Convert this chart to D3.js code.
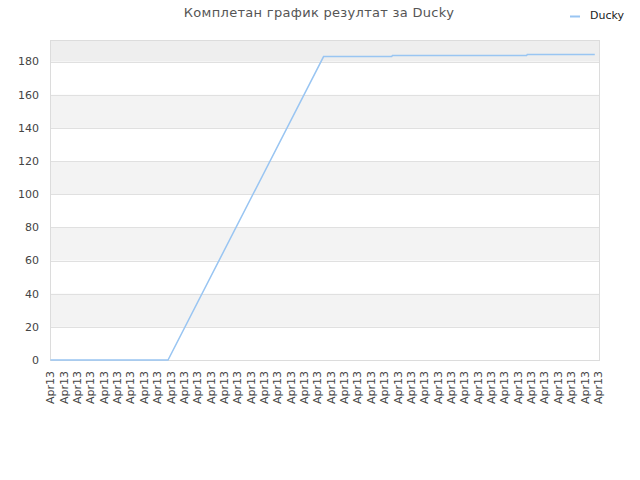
<!DOCTYPE html>
<html>
<head>
<meta charset="utf-8">
<script src="https://cdn.jsdelivr.net/npm/d3@7"></script>
<style>
  body { margin: 0; background: #fff; }
  text { font-family: "DejaVu Sans", sans-serif; }
</style>
</head>
<body>
<div id="graph"></div>
<script>
// data
var seriesName = "Ducky";
var chartTitle = "Комплетан график резултат за Ducky";
var xLabels = d3.range(42).map(function () { return "Apr13"; });
// x positions in label units (time is irregular), and the score at each
var xPos = [0, 8.8, 20.45, 25.55, 25.6, 35.65, 35.7, 40.76];
var values = [0, 0, 183, 183, 183.6, 183.6, 184.2, 184.2];
var yTicks = [0, 20, 40, 60, 80, 100, 120, 140, 160, 180];

var w = 640, h = 480,
    plotL = 50, plotR = 600, plotT = 40, plotB = 360;

var svg = d3.select("#graph").append("svg")
    .attr("width", w)
    .attr("height", h);

var y = d3.scaleLinear().domain([0, 193]).range([plotB, plotT]);
var x = d3.scaleLinear().domain([0, xLabels.length - 1]).range([50.5, 598]);

// bands: grey on every second interval
var bandStarts = yTicks.filter(function (d, i) { return i % 2 === 1; });
svg.selectAll("rect.band")
  .data(bandStarts)
  .enter().append("rect")
    .attr("class", "band")
    .attr("x", plotL)
    .attr("width", plotR - plotL)
    .attr("y", function (d) { return y(Math.min(d + 20, 193)); })
    .attr("height", function (d) { return y(d) - y(Math.min(d + 20, 193)); })
    .attr("fill", function (d) { return d === 180 ? "#eeeeee" : "#f3f3f3"; });

// grid
svg.selectAll("line.grid")
  .data(yTicks)
  .enter().append("line")
    .attr("x1", plotL).attr("x2", plotR)
    .attr("y1", function (d) { return Math.round(y(d)) + 0.5; })
    .attr("y2", function (d) { return Math.round(y(d)) + 0.5; })
    .attr("stroke", "#e0e0e0");

// frame
svg.append("rect")
  .attr("x", plotL + 0.5).attr("y", plotT + 0.5)
  .attr("width", plotR - plotL - 1).attr("height", plotB - plotT)
  .attr("fill", "none")
  .attr("stroke", "#dcdcdc");

// y labels
svg.selectAll("text.ylab")
  .data(yTicks)
  .enter().append("text")
    .attr("x", 39)
    .attr("y", function (d) { return y(d); })
    .attr("dy", "0.35em")
    .attr("text-anchor", "end")
    .attr("font-size", 11)
    .attr("fill", "#444")
    .text(function (d) { return d; });

// x labels
svg.selectAll("text.xlab")
  .data(xLabels)
  .enter().append("text")
    .attr("transform", function (d, i) {
      return "translate(" + x(i) + "," + 371 + ") rotate(-90)";
    })
    .attr("dy", "0.35em")
    .attr("text-anchor", "end")
    .attr("font-size", 11)
    .attr("fill", "#444")
    .text(function (d) { return d; });

// the line
var pts = xPos.map(function (d, i) { return [d, values[i]]; });
svg.append("path")
  .datum(pts)
  .attr("fill", "none")
  .attr("stroke", "#99c5f2")
  .attr("stroke-width", 1.5)
  .attr("d", d3.line()
    .x(function (d) { return x(d[0]); })
    .y(function (d) { return y(d[1]); }));

// title
svg.append("text")
  .attr("x", 319).attr("y", 17)
  .attr("text-anchor", "middle")
  .attr("font-size", 13)
  .attr("letter-spacing", 0.3)
  .attr("fill", "#555")
  .text(chartTitle);

// legend
svg.append("line")
  .attr("x1", 570).attr("x2", 580)
  .attr("y1", 16.5).attr("y2", 16.5)
  .attr("stroke", "#99c5f2")
  .attr("stroke-width", 2);
svg.append("text")
  .attr("x", 590).attr("y", 18)
  .attr("dy", "0.1em")
  .attr("font-size", 11)
  .attr("fill", "#222")
  .text(seriesName);
</script>
</body>
</html>
